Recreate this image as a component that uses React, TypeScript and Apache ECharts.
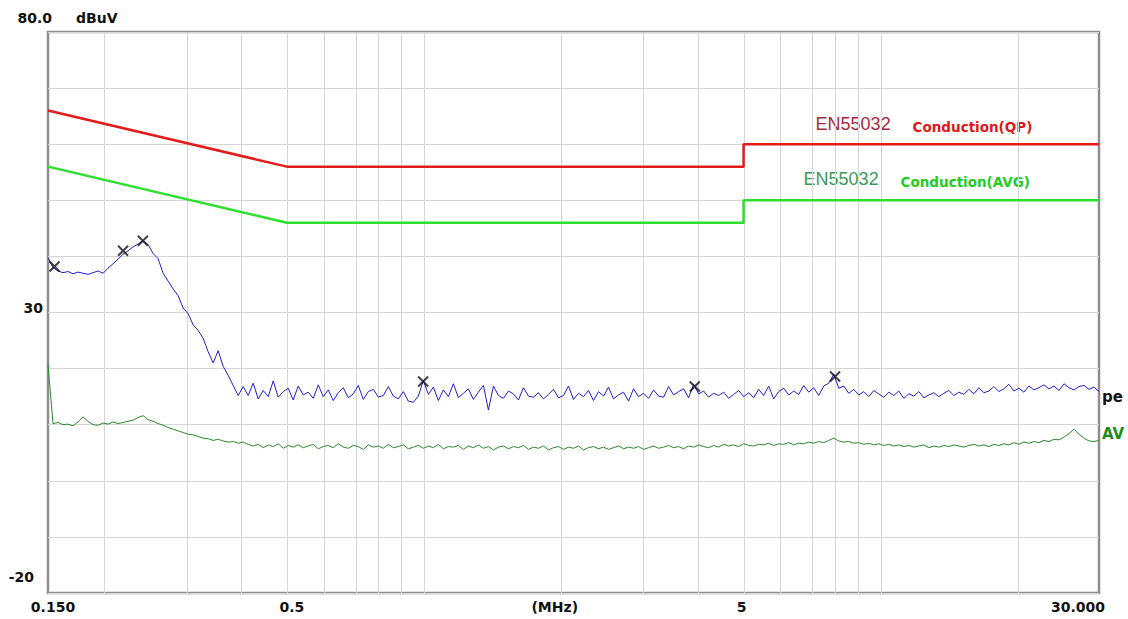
import React, { useEffect, useRef } from "react";
import * as echarts from "echarts";

// ---- axis ranges ----
const F_MIN = 0.15;
const F_MAX = 30;
const Y_MIN = -20;
const Y_MAX = 80;
const Y_STEP = 10;

// vertical grid lines (MHz)
const gridFreqs = [0.2, 0.3, 0.4, 0.5, 0.6, 0.7, 0.8, 0.9, 1, 2, 3, 4, 5, 6, 7, 8, 9, 10, 20];

// tick labels
const yTickValues = [80, 30, -20];
const yTickTexts = ["80.0", "30", "-20"];
const yUnit = "dBuV";
const xTickValues = [0.15, 0.5, 1.93, 5, 30];
const xTickTexts = ["0.150", "0.5", "(MHz)", "5", "30.000"];

// EN55032 limits
const limitFreqs = [0.15, 0.5, 5, 5, 30];
const qpLimit = [66, 56, 56, 60, 60];
const avgLimit = [56, 46, 46, 50, 50];
const qpLabelStd = "EN55032";
const qpLabelName = "Conduction(QP)";
const avgLabelStd = "EN55032";
const avgLabelName = "Conduction(AVG)";

// measured traces: log sweep 0.15 - 30 MHz, 211 points
const peakValues = [
  39.8, 38.0, 37.4, 37.1, 37.3, 36.9, 37.2, 37.0, 36.8, 37.1,
  37.4, 37.0, 37.9, 38.7, 39.5, 40.4, 41.0, 41.7, 42.2, 42.8,
  42.1, 40.5, 39.6, 37.0, 35.6, 34.2, 33.0, 30.8, 29.8, 27.8,
  26.8, 25.4, 23.0, 21.0, 23.2, 20.4, 18.8, 17.0, 15.2,
  16.8, 15.2, 17.4, 14.6, 16.1, 15.0, 17.8, 14.9, 15.9, 16.5,
  14.4, 16.9, 15.3, 15.8, 14.7, 17.1, 15.0, 16.2, 14.3, 15.7,
  16.6, 14.8, 15.5, 17.0, 14.5, 15.9, 16.3, 14.9, 15.2, 16.8,
  15.1, 14.6, 15.9, 14.2, 14.0, 15.1, 17.9, 15.4, 16.7, 14.3,
  16.2, 15.0, 17.3, 14.8, 15.6, 16.4, 14.5, 15.8, 17.0, 12.6,
  16.9, 15.2, 14.7, 16.0, 15.5, 14.4, 16.6, 15.1, 14.9, 15.7,
  14.6, 15.4, 16.3, 14.8, 15.2, 16.9, 14.5, 15.6, 15.0, 16.1,
  14.3, 15.9, 15.1, 16.7, 14.6, 15.3, 15.8, 14.2, 16.4, 15.0,
  15.6, 14.7, 16.2, 15.1, 14.9, 16.8, 15.3, 15.9, 16.4, 14.8,
  17.2, 15.5, 16.0, 14.9, 15.6, 15.2, 15.8, 14.7, 15.4, 16.1,
  15.0, 15.7, 14.8, 16.3, 15.2, 16.9, 14.6, 15.9, 16.5, 15.3,
  16.0, 15.4, 17.0, 15.8, 16.6, 15.2, 16.9, 17.4, 19.0, 16.5,
  16.9, 15.6, 16.3, 15.3, 15.9, 15.0, 16.1, 15.5, 14.9, 15.8,
  15.2, 16.0, 14.7, 15.5, 15.1, 15.9, 14.8, 15.3, 15.7, 15.0,
  15.6, 16.1, 15.2, 15.8, 15.4, 16.3, 15.5, 16.6, 15.7, 16.0,
  16.8, 15.9, 16.4, 17.2, 16.0, 16.5, 15.8, 16.9, 16.2, 16.6,
  17.1, 16.4, 16.9, 16.1, 17.3, 16.6, 16.2, 16.8, 17.0, 16.3,
  16.7, 15.9,
];

const avgValues = [
  20.7, 10.2, 10.4, 10.0, 10.1, 9.8, 10.5, 11.4, 10.6, 10.0,
  9.9, 10.3, 10.1, 10.5, 10.2, 10.4, 10.6, 10.8, 11.3, 11.6,
  10.9, 10.6, 10.2, 9.9, 9.5, 9.2, 8.9, 8.6, 8.3, 8.2,
  7.9, 7.6, 7.5, 7.2, 7.4, 7.1, 6.9, 7.0, 6.7, 6.9,
  6.5,
  6.2, 6.5, 5.9, 6.4, 6.1, 6.6, 5.8, 6.3, 6.0, 6.4,
  5.9, 6.2, 6.5, 5.7, 6.1, 6.3, 5.9, 6.6, 6.0, 5.8,
  6.3, 6.1, 5.6, 6.4, 6.0, 6.2, 5.8, 6.5, 5.9, 6.1,
  6.4, 5.7, 6.0, 6.3, 5.8, 6.2, 5.9, 6.5, 5.7, 6.1,
  6.0, 6.3, 5.6, 6.2, 5.9, 6.4, 5.8, 6.1, 5.5, 6.0,
  6.2, 5.7, 6.1, 5.9, 6.3, 5.6, 6.0, 5.8, 6.2, 5.5,
  5.9, 6.1, 5.6, 6.0, 5.8, 6.2, 5.5, 5.9, 6.1, 5.7,
  6.0, 5.6, 5.9, 6.2, 5.7, 6.0, 5.8, 6.1, 5.6, 5.9,
  6.2, 5.8, 6.0, 6.3, 5.9, 6.1, 5.7, 6.2, 6.0, 6.4,
  6.1, 5.9, 6.3, 6.0, 6.5, 6.2, 6.4, 6.1, 6.6, 6.3,
  6.2, 6.5, 6.4, 6.7, 6.3, 6.6, 6.5, 6.8, 6.4, 6.7,
  6.6, 6.9, 6.7, 7.0, 6.8, 7.2, 7.6, 7.1, 6.9, 7.0,
  6.7, 6.8, 6.5, 6.7, 6.4, 6.6, 6.3, 6.5, 6.2, 6.4,
  6.1, 6.3, 6.0, 6.2, 6.4, 5.9, 6.2, 6.0, 6.3, 6.1,
  6.4, 6.2, 6.0, 6.3, 6.5, 6.2, 6.4, 6.1, 6.5, 6.3,
  6.6, 6.4, 6.8, 6.5, 6.9, 6.7, 7.0, 6.8, 7.2, 7.0,
  7.4, 7.3, 7.8, 8.4, 9.2, 8.3, 7.6, 7.1, 7.0, 7.2,
];
// trace names as visible at the chart's right edge
const peakLabel = "pe";
const avgLabel = "AV";

// peak markers
const markerFreqs = [0.155, 0.219, 0.242, 0.994, 3.91, 7.93];
const markerLevels = [38.2, 41.0, 42.8, 17.7, 16.8, 18.6];

const lg = (f: number) => Math.log10(f);
const sweepFreq = (i: number, n: number) => F_MIN * Math.pow(F_MAX / F_MIN, i / (n - 1));

const FONT = "DejaVu Sans";

export default function App() {
  const ref = useRef<HTMLDivElement>(null);

  useEffect(() => {
    if (!ref.current) return;
    const chart = echarts.init(ref.current, undefined, { renderer: "svg" });

    const peakData = peakValues.map((v, i) => [lg(sweepFreq(i, peakValues.length)), v]);
    const avgData = avgValues.map((v, i) => [lg(sweepFreq(i, avgValues.length)), v]);
    const qpData = limitFreqs.map((f, i) => [lg(f), qpLimit[i]]);
    const avgLimData = limitFreqs.map((f, i) => [lg(f), avgLimit[i]]);
    const markerData = markerFreqs.map((f, i) => [lg(f), markerLevels[i]]);

    const option: any = {
      animation: false,
      backgroundColor: "#ffffff",
      textStyle: { fontFamily: FONT },
      grid: {
        left: 48,
        right: 29,
        top: 32,
        bottom: 26,
        show: true,
        borderColor: "#8e8e8e",
        borderWidth: 2.5,
        backgroundColor: "transparent",
      },
      xAxis: {
        type: "value",
        min: lg(F_MIN),
        max: lg(F_MAX),
        axisLine: { show: false },
        axisTick: { show: false },
        axisLabel: { show: false },
        splitLine: { show: false },
      },
      yAxis: {
        type: "value",
        min: Y_MIN,
        max: Y_MAX,
        interval: Y_STEP,
        axisLine: { show: false },
        axisTick: { show: false },
        axisLabel: { show: false },
        splitLine: { show: true, lineStyle: { color: "#d6d6d6", width: 1 } },
      },
      series: [
        {
          type: "line",
          name: "grid",
          data: [],
          silent: true,
          z: 1,
          markLine: {
            silent: true,
            symbol: "none",
            z: 1,
            label: { show: false },
            lineStyle: { color: "#d6d6d6", width: 1, type: "solid" },
            data: gridFreqs.map((f) => ({ xAxis: lg(f) })),
          },
        },
        {
          type: "line",
          name: "QP limit",
          data: qpData,
          showSymbol: false,
          z: 3,
          lineStyle: { color: "#e21b1b", width: 2.5 },
        },
        {
          type: "line",
          name: "AVG limit",
          data: avgLimData,
          showSymbol: false,
          z: 3,
          lineStyle: { color: "#2ee02e", width: 2.5 },
        },
        {
          type: "line",
          name: "AVG",
          data: avgData,
          showSymbol: false,
          z: 4,
          lineStyle: { color: "#2b8a2b", width: 1 },
        },
        {
          type: "line",
          name: "peak",
          data: peakData,
          showSymbol: false,
          z: 5,
          lineStyle: { color: "#1f1fd2", width: 1 },
        },
        {
          type: "scatter",
          name: "markers",
          data: markerData,
          z: 6,
          symbol: "path://M0 0L10 10M10 0L0 10",
          symbolSize: 10,
          itemStyle: { color: "none", borderColor: "#111111", borderWidth: 2 },
        },
      ],
    };
    chart.setOption(option);

    const px = (f: number) => chart.convertToPixel({ gridIndex: 0 }, [lg(f), 0])[0];
    const py = (v: number) => chart.convertToPixel({ gridIndex: 0 }, [lg(1), v])[1];

    const axisFont = `bold 14px "${FONT}"`;
    const graphics: any[] = [];

    // y tick labels (offsets mimic the instrument's layout)
    const yOffsets = [
      { dx: 4, dy: -14 },
      { dx: -5, dy: -5 },
      { dx: -14, dy: -16 },
    ];
    yTickValues.forEach((v, i) => {
      graphics.push({
        type: "text",
        x: px(F_MIN) + yOffsets[i].dx,
        y: py(v) + yOffsets[i].dy,
        style: {
          text: yTickTexts[i],
          font: axisFont,
          fill: "#111",
          align: "right",
          verticalAlign: "middle",
        },
      });
    });
    graphics.push({
      type: "text",
      x: px(F_MIN) + 28,
      y: py(Y_MAX) - 14,
      style: { text: yUnit, font: axisFont, fill: "#111", align: "left", verticalAlign: "middle" },
    });

    // x tick labels
    const xOffsets = [5, 5, 0, -2, -21];
    xTickValues.forEach((f, i) => {
      graphics.push({
        type: "text",
        x: px(f) + xOffsets[i],
        y: py(Y_MIN) + 14,
        style: {
          text: xTickTexts[i],
          font: axisFont,
          fill: "#111",
          align: "center",
          verticalAlign: "middle",
        },
      });
    });

    // limit labels
    const stepX = px(limitFreqs[2]);
    const qpY = py(qpLimit[3]);
    const avY = py(avgLimit[3]);
    graphics.push(
      {
        type: "text",
        x: stepX + 72,
        y: qpY - 20,
        style: { text: qpLabelStd, font: `18px "Liberation Sans"`, fill: "#a82a3c", verticalAlign: "middle" },
      },
      {
        type: "text",
        x: stepX + 169,
        y: qpY - 17,
        style: { text: qpLabelName, font: `bold 13.5px "${FONT}"`, fill: "#e01818", verticalAlign: "middle" },
      },
      {
        type: "text",
        x: stepX + 60,
        y: avY - 21,
        style: { text: avgLabelStd, font: `18px "Liberation Sans"`, fill: "#3a9a58", verticalAlign: "middle" },
      },
      {
        type: "text",
        x: stepX + 157,
        y: avY - 18,
        style: { text: avgLabelName, font: `bold 13.5px "${FONT}"`, fill: "#22cc22", verticalAlign: "middle" },
      }
    );

    // trace labels at right edge
    const rightX = px(F_MAX);
    graphics.push(
      {
        type: "text",
        x: rightX + 3,
        y: py(peakValues[peakValues.length - 1]) + 5,
        style: { text: peakLabel, font: `bold 15px "${FONT}"`, fill: "#111", verticalAlign: "middle" },
      },
      {
        type: "text",
        x: rightX + 3,
        y: py(avgValues[avgValues.length - 1]) - 6,
        style: { text: avgLabel, font: `bold 15px "${FONT}"`, fill: "#1e8c1e", verticalAlign: "middle" },
      }
    );

    chart.setOption({ graphic: graphics });

    return () => chart.dispose();
  }, []);

  return (
    <div
      ref={ref}
      style={{ position: "fixed", left: 0, top: 0, width: 1128, height: 619, background: "#fff", overflow: "hidden" }}
    />
  );
}
